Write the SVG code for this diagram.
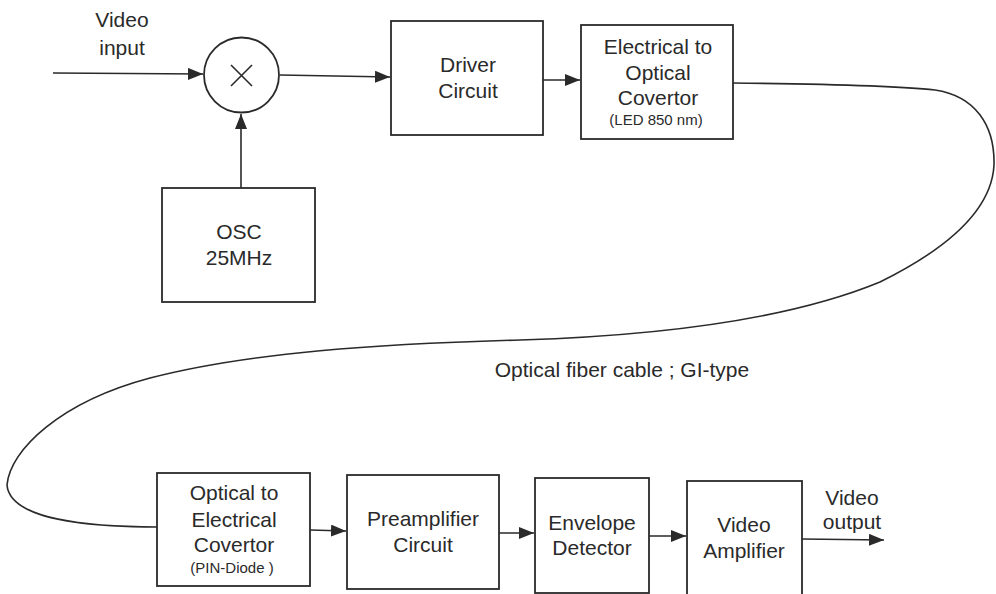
<svg xmlns="http://www.w3.org/2000/svg" width="996" height="594" viewBox="0 0 996 594">
<defs>
<marker id="ah" viewBox="0 0 15 12" refX="15" refY="6" markerWidth="15" markerHeight="12" markerUnits="userSpaceOnUse" orient="auto">
<path d="M0,0 L15,6 L0,12 Z" fill="#2a2a2a"/>
</marker>
<style>
.box{fill:#fff;stroke:#2a2a2a;stroke-width:1.8}
.ln{fill:none;stroke:#2a2a2a;stroke-width:1.6}
.t{font-family:"Liberation Sans",Arial,sans-serif;font-size:21px;fill:#2a2a2a;text-anchor:middle}
.s{font-family:"Liberation Sans",Arial,sans-serif;font-size:15px;fill:#2a2a2a;text-anchor:middle}
</style>
</defs>
<rect width="996" height="594" fill="#fff"/>
<g id="connectors">
<line class="ln" x1="53" y1="73" x2="203" y2="74" marker-end="url(#ah)"/>
<line class="ln" x1="280" y1="75" x2="390" y2="77" marker-end="url(#ah)"/>
<line class="ln" x1="241" y1="188" x2="241" y2="114" marker-end="url(#ah)"/>
<line class="ln" x1="543" y1="80" x2="580" y2="80" marker-end="url(#ah)"/>
<path class="ln" d="M733,83 C830,84 900,86 935,90 C975,96 995,125 994,165 C992,205 955,245 880,282 C800,315 680,335 520,340 C380,344 250,352 150,378 C60,402 10,450 7,485 C10,520 90,527 157,527"/>
<line class="ln" x1="310" y1="530" x2="346" y2="531" marker-end="url(#ah)"/>
<line class="ln" x1="499" y1="533" x2="534" y2="533" marker-end="url(#ah)"/>
<line class="ln" x1="649" y1="536" x2="686" y2="536" marker-end="url(#ah)"/>
<line class="ln" x1="802" y1="539" x2="884" y2="540" marker-end="url(#ah)"/>
</g>
<g id="video-input-label">
<text class="t" x="122" y="27">Video</text>
<text class="t" x="122" y="55">input</text>
</g>
<g id="mixer">
<circle class="box" cx="241.5" cy="75" r="37.5"/>
<path class="ln" d="M231,65 L252,86 M252,65 L231,86" stroke-width="1.5"/>
</g>
<g id="osc">
<rect class="box" x="162" y="188" width="153" height="114"/>
<text class="t" x="239" y="239">OSC</text>
<text class="t" x="239" y="265">25MHz</text>
</g>
<g id="driver">
<rect class="box" x="391" y="21" width="152" height="114"/>
<text class="t" x="468" y="72">Driver</text>
<text class="t" x="468" y="98">Circuit</text>
</g>
<g id="eo">
<rect class="box" x="581" y="25" width="152" height="114"/>
<text class="t" x="658" y="54">Electrical to</text>
<text class="t" x="658" y="80">Optical</text>
<text class="t" x="658" y="105">Covertor</text>
<text class="s" x="656" y="125">(LED 850 nm)</text>
</g>
<g id="fiber-label">
<text class="t" x="622" y="377">Optical fiber cable ; GI-type</text>
</g>
<g id="oe">
<rect class="box" x="157" y="473" width="153" height="113"/>
<text class="t" x="234" y="500">Optical to</text>
<text class="t" x="234" y="527">Electrical</text>
<text class="t" x="234" y="552">Covertor</text>
<text class="s" x="232" y="573">(PIN-Diode )</text>
</g>
<g id="preamp">
<rect class="box" x="347" y="475" width="152" height="114"/>
<text class="t" x="423" y="526">Preamplifier</text>
<text class="t" x="423" y="552">Circuit</text>
</g>
<g id="envelope">
<rect class="box" x="535" y="478" width="114" height="115"/>
<text class="t" x="592" y="530">Envelope</text>
<text class="t" x="592" y="555">Detector</text>
</g>
<g id="videoamp">
<rect class="box" x="687" y="481" width="115" height="114"/>
<text class="t" x="744" y="532">Video</text>
<text class="t" x="744" y="558">Amplifier</text>
</g>
<g id="video-output-label">
<text class="t" x="852" y="505">Video</text>
<text class="t" x="852" y="529">output</text>
</g>
</svg>
